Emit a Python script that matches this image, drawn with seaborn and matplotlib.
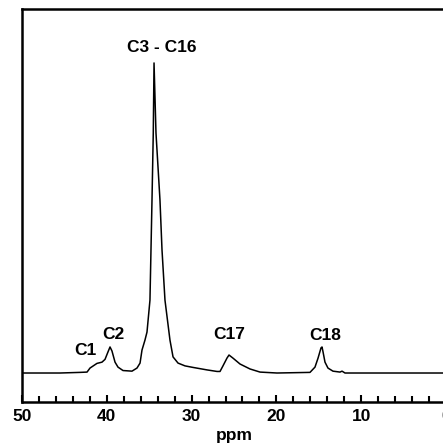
import matplotlib
matplotlib.use("Agg")
import matplotlib.pyplot as plt
import seaborn as sns
import pandas as pd
from matplotlib.ticker import MultipleLocator

# 13C NMR spectrum: chemical shift (ppm) and intensity (a.u., main peak = 100)
ppm = [50.0, 45.52, 43.16, 42.33, 41.98, 41.16, 40.57, 40.21, 39.86, 39.62,
       39.39, 39.03, 38.68, 38.09, 37.03, 36.44, 36.08, 35.85, 35.50, 35.26,
       34.91, 34.67, 34.52, 34.43, 34.20, 33.73, 33.49, 33.14, 32.55, 32.19,
       31.60, 30.78, 29.83, 28.18, 27.00, 26.65, 26.30, 25.83, 25.59, 25.12,
       24.29, 23.11, 21.93, 19.93, 16.04, 15.45, 15.09, 14.74, 14.62, 14.50,
       14.27, 13.92, 13.33, 12.50, 12.26, 11.91, 0.0]
intensity = [0.0, 0.0, 0.2, 0.3, 1.6, 3.1, 3.5, 4.4, 6.8, 8.4,
             7.1, 3.5, 1.9, 0.8, 0.6, 1.6, 3.2, 7.4, 10.6, 13.2,
             23.5, 55.8, 77.4, 100.0, 77.4, 55.8, 39.7, 23.5, 10.6, 5.2,
             3.2, 2.3, 1.8, 1.0, 0.5, 0.5, 2.3, 4.8, 5.8, 4.8,
             2.9, 1.3, 0.3, 0.0, 0.2, 1.9, 4.8, 8.1, 8.4, 6.8,
             3.5, 1.6, 0.6, 0.3, 0.6, 0.0, 0.0]

# Carbon assignments and where their labels sit (ppm, intensity)
peak_labels = ["C1", "C2", "C3 - C16", "C17", "C18"]
label_ppm = [42.57, 39.21, 33.55, 25.59, 14.27]
label_int = [7.4, 12.3, 105.0, 12.4, 12.1]

x_ticks = [50, 40, 30, 20, 10, 0]

sns.set_style("ticks")
plt.rcParams["font.family"] = ["Liberation Sans", "DejaVu Sans"]
plt.rcParams["font.weight"] = "bold"
plt.rcParams["text.color"] = "black"
plt.rcParams["axes.labelcolor"] = "black"
plt.rcParams["xtick.color"] = "black"
plt.rcParams["xtick.labelcolor"] = "black"

df = pd.DataFrame({"ppm": ppm, "intensity": intensity})

fig = plt.figure(figsize=(4.43, 4.45), dpi=100)
ax = fig.add_axes([22 / 443, 43 / 445, 424 / 443, 393 / 445])

sns.lineplot(data=df, x="ppm", y="intensity", ax=ax, color="black",
             linewidth=1.1, estimator=None, sort=False)

for lab, lx, ly in zip(peak_labels, label_ppm, label_int):
    ax.text(lx, ly, lab, ha="center", va="center", fontsize=12.5,
            fontweight="bold", color="black")

ax.set_xlim(50, 0)
ax.set_ylim(-9.35, 117.4)
ax.set_xticks(x_ticks)
ax.set_xticklabels([str(t) for t in x_ticks], fontsize=12.5, fontweight="bold",
                   color="black")
ax.xaxis.set_minor_locator(MultipleLocator(2))
ax.tick_params(axis="x", which="major", direction="in", length=5, width=1.5,
               pad=5, colors="black")
ax.tick_params(axis="x", which="minor", direction="in", length=4, width=1.5,
               colors="black")
ax.set_yticks([])
ax.set_ylabel("")
ax.set_xlabel("ppm", fontsize=12.5, fontweight="bold", labelpad=3, color="black")

for side in ["left", "top", "bottom", "right"]:
    ax.spines[side].set_visible(True)
    ax.spines[side].set_linewidth(1.8)
    ax.spines[side].set_color("black")

fig.savefig("out.png", dpi=100, facecolor="white")
